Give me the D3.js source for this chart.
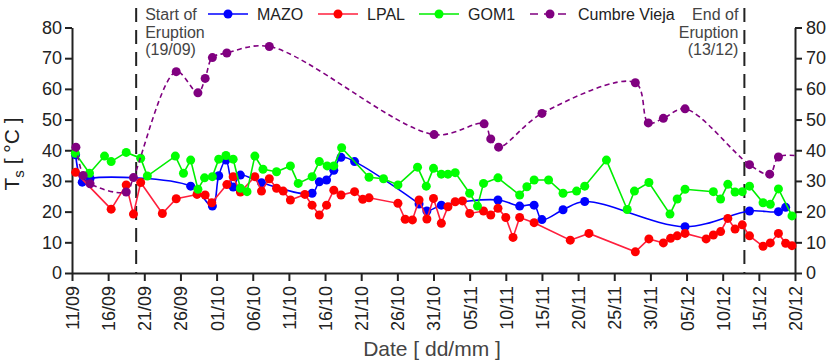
<!DOCTYPE html>
<html>
<head>
<meta charset="utf-8">
<script src="https://cdn.jsdelivr.net/npm/d3@7"></script>
<style>
  html, body { margin: 0; padding: 0; background: #fff; }
  svg { display: block; font-family: "Liberation Sans", Arial, sans-serif; }
</style>
</head>
<body>
<svg id="chart" width="833" height="362"></svg>
<script>
// ---- data (dates as "dd/mm HH", temperatures in °C) ----
const dateTicks = ["11/09","16/09","21/09","26/09","01/10","06/10","11/10","16/10","21/10","26/10",
  "31/10","05/11","10/11","15/11","20/11","25/11","30/11","05/12","10/12","15/12","20/12"];
const tempTicks = [0, 10, 20, 30, 40, 50, 60, 70, 80];

const mazoDates = ["11/09 12","12/09 10","13/09 12","27/09 10","30/09 10","01/10 07","02/10 07","03/10 07",
  "04/10 07","07/10 05","14/10 05","15/10 05","16/10 05","17/10 05","18/10 05","20/10 02","29/10 00",
  "30/10 02","01/11 02","08/11 22","11/11 22","13/11 22","15/11 00","17/11 22","20/11 22","04/12 19",
  "13/12 17","17/12 17","18/12 17"];
const mazoValues = [38.5,29.6,30.8,28.3,21.8,31.7,36.8,28.0,31.9,29.4,26.0,29.7,30.3,33.5,37.7,36.3,22.5,
  20.2,22.1,23.8,21.8,22.1,17.4,20.6,23.3,15.1,20.2,20.0,21.4];

const lpalDates = ["11/09 12","16/09 10","18/09 12","19/09 12","20/09 12","23/09 12","25/09 10","28/09 07",
  "29/09 10","30/09 08","02/10 10","03/10 07","04/10 07","06/10 07","07/10 05","08/10 07","09/10 07",
  "10/10 05","11/10 05","13/10 05","14/10 05","15/10 05","16/10 05","17/10 05","18/10 05","20/10 02",
  "21/10 05","22/10 02","26/10 02","27/10 02","28/10 02","29/10 00","30/10 02","31/10 00","01/11 02",
  "02/11 00","03/11 00","04/11 00","05/11 00","06/11 22","07/11 22","08/11 22","10/11 00","11/11 00",
  "11/11 22","13/11 22","18/11 22","21/11 12","27/11 22","29/11 19","01/12 19","02/12 19","03/12 17",
  "04/12 19","07/12 17","08/12 17","09/12 17","10/12 17","11/12 17","12/12 17","13/12 17","15/12 14",
  "16/12 14","17/12 17","18/12 17","19/12 14"];
const lpalValues = [32.8,20.8,28.7,19.2,29.5,19.4,24.2,25.6,25.4,22.9,28.8,31.4,26.4,31.4,26.7,30.7,27.6,
  26.7,23.8,25.6,22.1,18.9,22.1,27.0,25.4,26.5,24.0,24.5,22.7,17.5,17.3,23.8,17.6,24.3,16.2,21.6,23.2,
  23.5,19.4,20.2,18.9,21.1,18.1,11.6,18.1,16.4,10.7,12.9,6.9,11.1,9.8,11.3,12.1,12.9,11.1,12.4,13.5,
  17.8,14.3,15.7,12.1,8.7,9.8,12.9,9.7,8.9];

const gomDates = ["11/09 11","13/09 10","15/09 12","16/09 10","18/09 12","20/09 12","21/09 10","25/09 07",
  "26/09 10","27/09 10","28/09 10","29/09 08","30/09 10","01/10 07","02/10 07","03/10 07","04/10 07",
  "05/10 05","06/10 07","07/10 10","09/10 07","11/10 05","12/10 07","14/10 05","15/10 05","16/10 07",
  "17/10 05","18/10 07","22/10 02","24/10 02","26/10 02","28/10 19","30/10 00","31/10 00","01/11 02",
  "02/11 00","03/11 00","05/11 00","06/11 02","06/11 22","08/11 22","11/11 22","12/11 22","13/11 22",
  "15/11 22","17/11 22","19/11 19","20/11 22","23/11 22","26/11 19","27/11 19","29/11 19","02/12 17",
  "03/12 17","04/12 19","08/12 17","09/12 17","10/12 17","11/12 17","12/12 17","13/12 17","15/12 14",
  "16/12 14","17/12 17","19/12 14"];
const gomValues = [39.0,32.5,38.1,36.3,39.3,37.4,31.6,38.1,32.5,36.8,27.3,31.0,31.4,37.1,38.3,37.1,27.6,
  26.5,38.1,33.8,33.0,34.9,29.2,31.4,36.3,34.9,34.9,40.8,31.2,30.7,28.7,34.5,28.3,34.1,32.2,32.2,32.7,
  26.0,21.8,29.2,31.0,25.4,28.1,30.3,30.3,26.0,26.7,28.3,36.8,20.7,26.7,29.5,19.2,24.1,27.3,26.5,24.1,
  28.9,26.4,26.5,28.3,22.9,22.4,27.4,18.6];

const cvDates = ["11/09 13","12/09 13","13/09 12","18/09 12","19/09 12","25/09 10","28/09 10","29/09 10",
  "30/09 10","02/10 10","08/10 07","31/10 02","07/11 00","07/11 22","09/11 00","15/11 00","27/11 22",
  "29/11 17","01/12 19","04/12 19","13/12 17","16/12 12","17/12 17"];
const cvValues = [41.0,31.8,29.1,26.4,31.1,65.6,58.7,63.4,70.2,71.7,73.8,45.1,48.6,43.7,41.0,52.0,62.0,
  48.9,50.4,53.5,35.3,32.2,37.8];
// the Cumbre Vieja trace runs on to the end of the axis
const cvTrailDate = "20/12 00", cvTrailValue = 38.3;

const eruptionStart = "19/09 21", eruptionEnd = "13/12 00";

const seriesNames = ["MAZO", "LPAL", "GOM1", "Cumbre Vieja"];

// ---- layout ----
const svg = d3.select("#chart");
const W = 833, H = 362;
const plotL = 72, plotR = 795, plotT = 27.5, plotB = 273;
const ink = "#222";

svg.append("rect").attr("width", W).attr("height", H).attr("fill", "#fff");

const parseT = d3.utcParse("%d/%m %H");
const parseD = d3.utcParse("%d/%m");

const x = d3.scaleUtc().domain([parseD("11/09"), parseD("20/12")]).range([plotL, plotR]);
const y = d3.scaleLinear().domain([0, 80]).range([plotB, plotT]);

const zip = (ds, vs) => ds.map((d, i) => ({ t: parseT(d), v: vs[i] }));
const mazo = zip(mazoDates, mazoValues);
const lpal = zip(lpalDates, lpalValues);
const gom = zip(gomDates, gomValues);
const cv = zip(cvDates, cvValues);
const cvLine = cv.concat([{ t: parseT(cvTrailDate), v: cvTrailValue }]);

// ---- axes ----
const xAxis = d3.axisBottom(x).tickValues(dateTicks.map(parseD))
  .tickFormat(d3.utcFormat("%d/%m")).tickSize(8).tickSizeOuter(0);
const gx = svg.append("g").attr("transform", `translate(0,${plotB})`).call(xAxis);
gx.selectAll("text")
  .attr("transform", "rotate(-90)")
  .attr("x", -13).attr("y", 0).attr("dy", "0.36em")
  .attr("text-anchor", "end");

const yLeft = d3.axisLeft(y).tickValues(tempTicks).tickSize(7).tickPadding(3).tickSizeOuter(0);
const gyl = svg.append("g").attr("transform", `translate(${plotL},0)`).call(yLeft);
const yRight = d3.axisRight(y).tickValues(tempTicks).tickSize(7).tickPadding(4).tickSizeOuter(0);
const gyr = svg.append("g").attr("transform", `translate(${plotR},0)`).call(yRight);

[gx, gyl, gyr].forEach(g => {
  g.select(".domain").attr("stroke", ink).attr("stroke-width", 2);
  g.selectAll(".tick line").attr("stroke", ink).attr("stroke-width", 2);
  g.selectAll(".tick text").attr("fill", ink).style("font-size", "18px")
    .style("font-family", "'Liberation Sans', Arial, sans-serif");
});

// axis titles
svg.append("text")
  .attr("x", 432).attr("y", 356)
  .attr("text-anchor", "middle")
  .attr("fill", "#444")
  .style("font-size", "21px")
  .text("Date [ dd/mm ]");

const yt = svg.append("text")
  .attr("transform", "translate(19,154) rotate(-90)")
  .attr("text-anchor", "middle")
  .attr("fill", ink)
  .style("font-size", "21px");
yt.append("tspan").text("T");
yt.append("tspan").attr("dy", 5).style("font-size", "15px").text("s");
yt.append("tspan").attr("dy", -5).attr("xml:space", "preserve").text(" [ °C ]");

// ---- eruption markers ----
[eruptionStart, eruptionEnd].forEach(d => {
  const px = x(parseT(d));
  svg.append("line")
    .attr("x1", px).attr("x2", px).attr("y1", 8).attr("y2", plotB)
    .attr("stroke", ink).attr("stroke-width", 2)
    .attr("stroke-dasharray", "14,8");
});

const startX = x(parseT(eruptionStart)), endX = x(parseT(eruptionEnd));
const annot = (lines, px, anchor) => {
  lines.forEach((s, i) => {
    svg.append("text")
      .attr("x", px).attr("y", 20 + i * 17.5)
      .attr("text-anchor", anchor)
      .attr("fill", "#444")
      .style("font-size", "16px")
      .text(s);
  });
};
annot(["Start of", "Eruption", "(19/09)"], startX + 9, "start");
annot(["End of", "Eruption", "(13/12)"], endX - 6, "end");

// ---- series ----
const smooth = d3.line().x(d => x(d.t)).y(d => y(d.v)).curve(d3.curveCatmullRom.alpha(0.5));
const straight = d3.line().x(d => x(d.t)).y(d => y(d.v));

const series = [
  { name: seriesNames[0], pts: mazo, linePts: mazo, gen: smooth, line: "#0000ff", dot: "#0000ff", dash: null },
  { name: seriesNames[1], pts: lpal, linePts: lpal, gen: straight, line: "#ff1f3d", dot: "#ff0000", dash: null },
  { name: seriesNames[2], pts: gom, linePts: gom, gen: straight, line: "#00ee00", dot: "#00ff00", dash: null },
  { name: seriesNames[3], pts: cv, linePts: cvLine, gen: smooth, line: "#800080", dot: "#800080", dash: "5,3.5" }
];

const R = 4.5;
series.forEach(s => {
  const g = svg.append("g");
  g.append("path")
    .attr("d", s.gen(s.linePts))
    .attr("fill", "none")
    .attr("stroke", s.line)
    .attr("stroke-width", 1.6)
    .attr("stroke-dasharray", s.dash);
  g.selectAll("circle").data(s.pts).join("circle")
    .attr("cx", d => x(d.t)).attr("cy", d => y(d.v))
    .attr("r", R).attr("fill", s.dot);
});

// ---- legend ----
const legendX = [208, 318, 419, 530];
series.forEach((s, i) => {
  const lx = legendX[i], ly = 14;
  const g = svg.append("g");
  g.append("line")
    .attr("x1", lx).attr("x2", lx + 40).attr("y1", ly).attr("y2", ly)
    .attr("stroke", s.line).attr("stroke-width", 1.6)
    .attr("stroke-dasharray", s.dash ? "8,6" : null);
  g.append("circle").attr("cx", lx + 20).attr("cy", ly).attr("r", R).attr("fill", s.dot);
  g.append("text")
    .attr("x", lx + (i === 3 ? 48 : 49)).attr("y", ly + 5.8)
    .attr("fill", ink)
    .style("font-size", "16px")
    .text(s.name);
});
</script>
</body>
</html>
